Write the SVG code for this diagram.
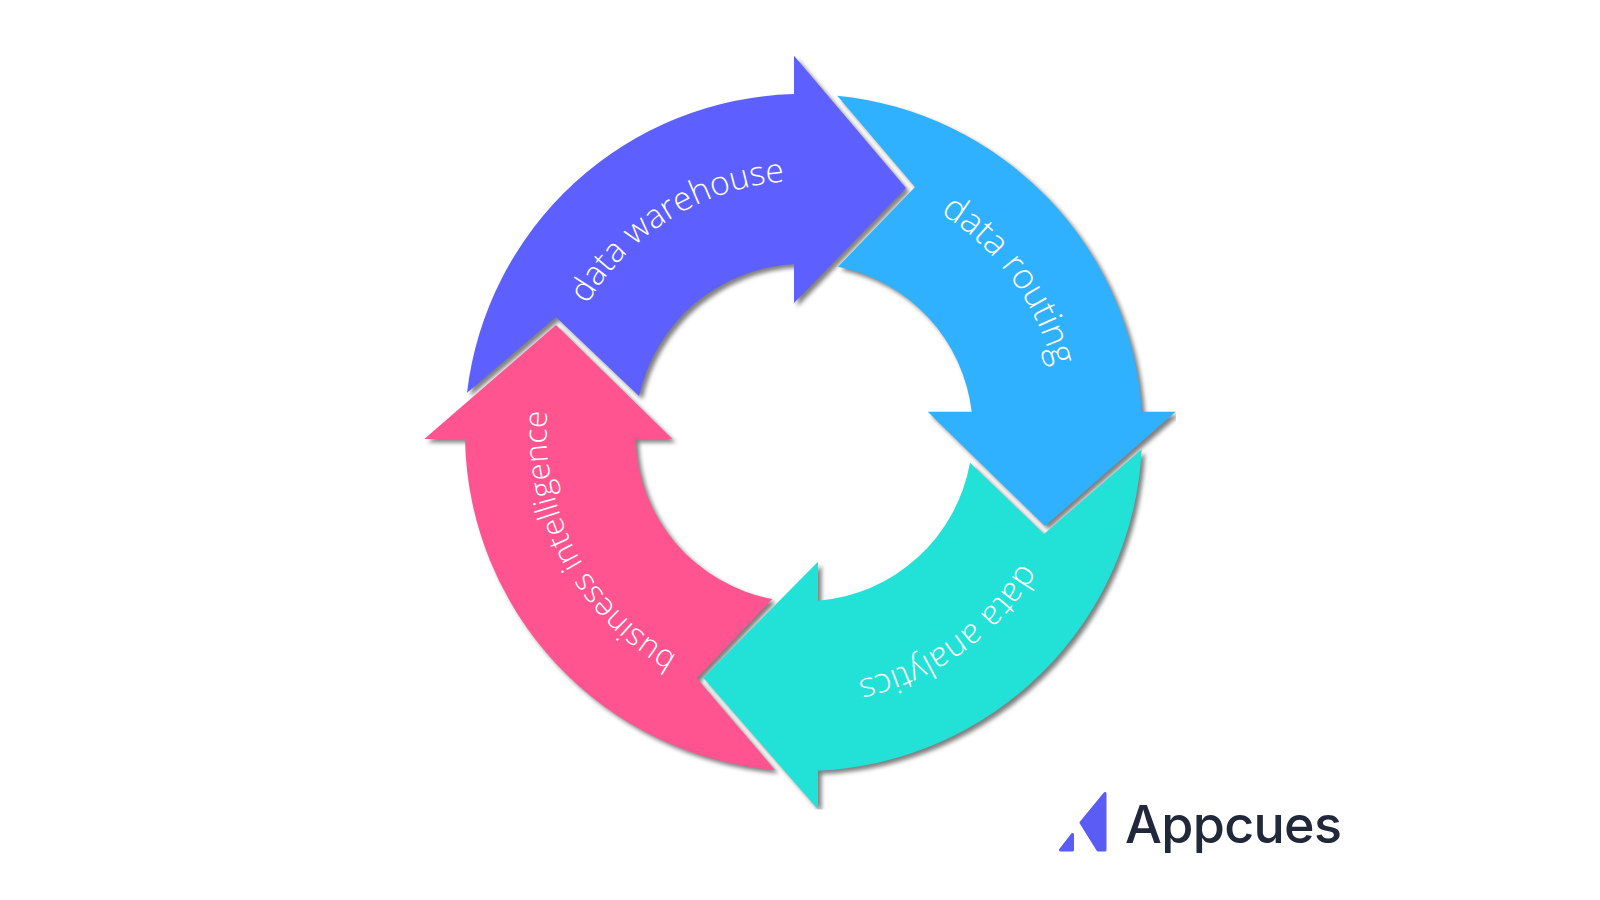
<svg xmlns="http://www.w3.org/2000/svg" xmlns:xlink="http://www.w3.org/1999/xlink" width="1600" height="900" viewBox="0 0 1600 900">
  <style>
    .lbl { font-family: "Open Sans", "Noto Sans", sans-serif; font-weight: 300; fill: #ffffff; }
    .brand { font-family: Inter, "Noto Sans", sans-serif; font-weight: 500; font-size: 52px; fill: #20283a; }
  </style>
  <defs>
    <filter id="soft" x="-10%" y="-10%" width="120%" height="120%"><feGaussianBlur stdDeviation="2"/></filter>
    <clipPath id="frame"><rect x="0" y="0" width="1176" height="809.5"/></clipPath>
    <path id="a-warehouse" d="M467,392.7 A339,338.5 0 0 1 794,94 V55.7 L906,188 L794,303 V264 A168,168 0 0 0 639,396 L556,317 Z"/>
    <path id="a-routing" d="M837.3,95.7 A339,338.5 0 0 1 1141.7,411.7 H1175.7 L1045,526 L927.7,411.7 H971.7 A168,168 0 0 0 838,266.7 L915,187 Z"/>
    <path id="a-analytics" d="M1141.7,449.3 A339,338.5 0 0 1 818,770.7 V809.3 L703.3,677.7 L818,561.7 V600.7 A168,168 0 0 0 970,462.7 L1044,534 Z"/>
    <path id="a-business" d="M775,770 A339,338.5 0 0 1 465,439 H424.3 L556,325 L672.3,439 H635.3 A168,168 0 0 0 772.3,599 L696.7,678.3 Z"/>
    <path id="t-warehouse" d="M587.2,304.6 A251,251 0 0 1 847.1,184.8"/>
    <path id="t-routing" d="M940.2,213.2 A258,258 0 0 1 1061.5,432"/>
    <path id="t-analytics" d="M1021.2,562.8 A254,254 0 0 1 759.4,682.1"/>
    <path id="t-business" d="M677,655.7 A257,257 0 0 1 562,344.1"/>
  </defs>
  <rect width="1600" height="900" fill="#ffffff"/>
  <g id="shadows" clip-path="url(#frame)">
    <g fill="#808080" filter="url(#soft)" transform="translate(3.5 3.5)">
      <use href="#a-warehouse"/>
      <use href="#a-routing"/>
      <use href="#a-analytics"/>
      <use href="#a-business"/>
    </g>
  </g>
  <g id="node-data-warehouse">
    <use href="#a-warehouse" fill="#5d5fff"/>
    <text class="lbl" font-size="33.5"><textPath href="#t-warehouse">data warehouse</textPath></text>
  </g>
  <g id="node-data-routing">
    <use href="#a-routing" fill="#30b1ff"/>
    <text class="lbl" font-size="35.5"><textPath href="#t-routing">data routing</textPath></text>
  </g>
  <g id="node-data-analytics">
    <use href="#a-analytics" fill="#22e1d6"/>
    <text class="lbl" font-size="34"><textPath href="#t-analytics">data analytics</textPath></text>
  </g>
  <g id="node-business-intelligence">
    <use href="#a-business" fill="#ff548f"/>
    <text class="lbl" font-size="31.5"><textPath href="#t-business">business intelligence</textPath></text>
  </g>
  <g id="logo">
    <path d="M1105,793.5 V850 H1098 L1081,822.7 Z" fill="#5b5bf6" stroke="#5b5bf6" stroke-width="3" stroke-linejoin="round"/>
    <path d="M1072.5,834.5 V850 H1060.5 Z" fill="#5b5bf6" stroke="#5b5bf6" stroke-width="3" stroke-linejoin="round"/>
    <text class="brand" x="1125" y="843" textLength="217">Appcues</text>
  </g>
</svg>
